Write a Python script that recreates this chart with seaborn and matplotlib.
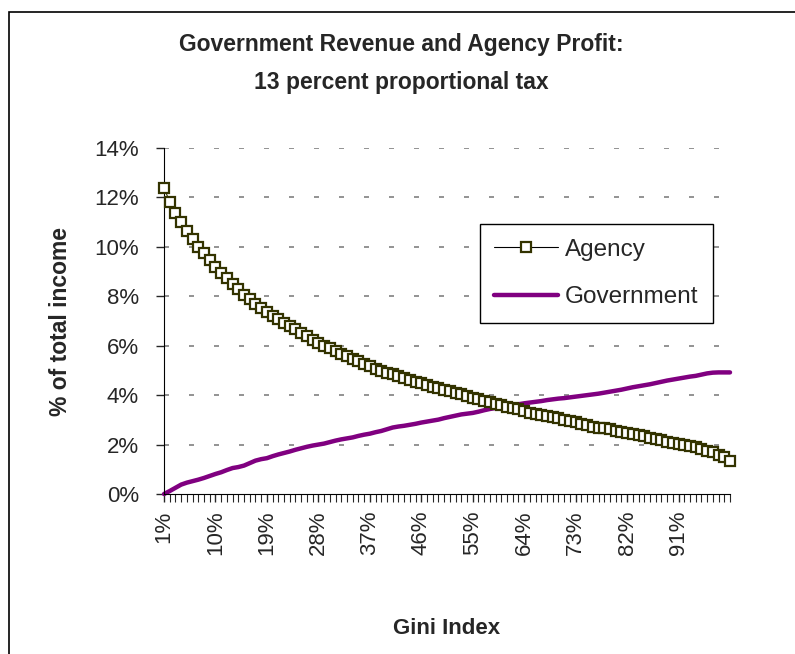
import matplotlib
matplotlib.use("Agg")
import matplotlib.pyplot as plt
import seaborn as sns
import pandas as pd
from matplotlib.patches import Rectangle

# Gini index categories (percent)
gini = list(range(1, 101))

# agency profit, % of total income
agency = [12.38, 11.83, 11.39, 11.02, 10.65, 10.30, 10.01, 9.74, 9.47, 9.20,
          8.95, 8.74, 8.50, 8.29, 8.07, 7.88, 7.70, 7.53, 7.37, 7.22,
          7.07, 6.93, 6.80, 6.66, 6.52, 6.38, 6.24, 6.11, 6.00, 5.89,
          5.78, 5.68, 5.58, 5.48, 5.38, 5.26, 5.16, 5.07, 4.98, 4.91,
          4.85, 4.78, 4.71, 4.63, 4.55, 4.48, 4.41, 4.34, 4.28, 4.21,
          4.15, 4.10, 4.03, 3.96, 3.89, 3.83, 3.77, 3.71, 3.65, 3.59,
          3.53, 3.48, 3.42, 3.35, 3.29, 3.25, 3.20, 3.15, 3.10, 3.06,
          3.01, 2.97, 2.93, 2.85, 2.78, 2.72, 2.69, 2.66, 2.62, 2.56,
          2.51, 2.46, 2.41, 2.37, 2.33, 2.28, 2.22, 2.17, 2.12, 2.07,
          2.02, 1.98, 1.94, 1.89, 1.82, 1.76, 1.68, 1.58, 1.48, 1.35]

# government revenue, % of total income
government = [0.00, 0.12, 0.25, 0.38, 0.46, 0.52, 0.58, 0.65, 0.73, 0.81,
              0.88, 0.97, 1.05, 1.09, 1.15, 1.25, 1.35, 1.41, 1.45, 1.53,
              1.60, 1.66, 1.72, 1.79, 1.85, 1.91, 1.96, 2.00, 2.04, 2.10,
              2.16, 2.21, 2.25, 2.29, 2.35, 2.40, 2.44, 2.50, 2.55, 2.62,
              2.69, 2.73, 2.76, 2.80, 2.84, 2.89, 2.93, 2.97, 3.01, 3.07,
              3.12, 3.17, 3.22, 3.25, 3.28, 3.33, 3.39, 3.44, 3.48, 3.51,
              3.55, 3.59, 3.63, 3.67, 3.70, 3.73, 3.76, 3.80, 3.83, 3.86,
              3.88, 3.91, 3.94, 3.97, 4.00, 4.03, 4.06, 4.10, 4.14, 4.18,
              4.22, 4.27, 4.32, 4.36, 4.40, 4.44, 4.49, 4.54, 4.59, 4.63,
              4.67, 4.71, 4.75, 4.78, 4.83, 4.88, 4.91, 4.92, 4.92, 4.92]

x_ticks = list(range(1, 100, 9))
x_ticklabels = [f'{v}%' for v in x_ticks]
y_ticks = list(range(0, 15, 2))
y_ticklabels = [f'{v}%' for v in y_ticks]

sns.set_style("white")
plt.rcParams['font.family'] = ['Liberation Sans', 'DejaVu Sans']

df = pd.DataFrame({'Gini': gini, 'Agency': agency, 'Government': government})

fig = plt.figure(figsize=(7.95, 6.54), dpi=100)
ax = fig.add_axes([164/795, 1 - 494/654, 566/795, 346/654])

# outer frame like the spreadsheet chart border
fig.patches.append(Rectangle((9/795, -0.05), 1.1, 1 - 12/654 + 0.05, transform=fig.transFigure,
                             fill=False, edgecolor='black', linewidth=1.2, zorder=0))

sns.lineplot(data=df, x='Gini', y='Government', ax=ax, color='#800080', linewidth=3.2,
             label='Government', zorder=2, clip_on=False)
sns.lineplot(data=df, x='Gini', y='Agency', ax=ax, color='#333300', linewidth=0.8,
             marker='s', markersize=7.4, markerfacecolor='white', markeredgecolor='#333300',
             markeredgewidth=1.6, label='Agency', zorder=3, clip_on=False)

ax.set_xlim(1, 100)
ax.set_ylim(0, 14)
ax.set_yticks(y_ticks)
ax.set_yticklabels(y_ticklabels, fontsize=16)
ax.set_xticks(x_ticks)
ax.set_xticklabels(x_ticklabels, fontsize=16, rotation=90)
ax.set_xticks(gini, minor=True)
ax.tick_params(axis='x', which='major', direction='out', length=6, width=1, pad=6, bottom=True)
ax.tick_params(axis='x', which='minor', direction='out', length=6, width=0.8, bottom=True)
ax.tick_params(axis='y', direction='out', length=6, width=1, left=True, pad=12)

for v in y_ticks[1:]:
    ax.axhline(v, color='#808080', linestyle=(0, (3, 12)), linewidth=1.2, zorder=0)

ax.spines['top'].set_visible(False)
ax.spines['right'].set_visible(False)
ax.spines['left'].set_color('black')
ax.spines['bottom'].set_color('black')

ax.set_xlabel('Gini Index', fontsize=16, fontweight='bold', labelpad=45)
ax.set_ylabel('% of total income', fontsize=16.5, fontweight='bold', labelpad=16)

fig.text(0.505, 1 - 45/654, 'Government Revenue and Agency Profit:', ha='center', va='center',
         fontsize=16.5, fontweight='bold')
fig.text(0.505, 1 - 83/654, '13 percent proportional tax', ha='center', va='center',
         fontsize=16.5, fontweight='bold')

handles, labels = ax.get_legend_handles_labels()
order = [labels.index('Agency'), labels.index('Government')]
leg = ax.legend([handles[i] for i in order], [labels[i] for i in order],
                loc='upper left', bbox_to_anchor=(0.558, 0.78), fontsize=17.5,
                frameon=True, fancybox=False, edgecolor='black', framealpha=1,
                handlelength=2.6, borderpad=0.6, labelspacing=1.05, handletextpad=0.3,
                borderaxespad=0)
leg.get_frame().set_linewidth(1.0)
leg.legend_handles[0].set_color('black')
leg.legend_handles[0].set_markeredgecolor('#333300')

fig.savefig('out.png', dpi=100)
